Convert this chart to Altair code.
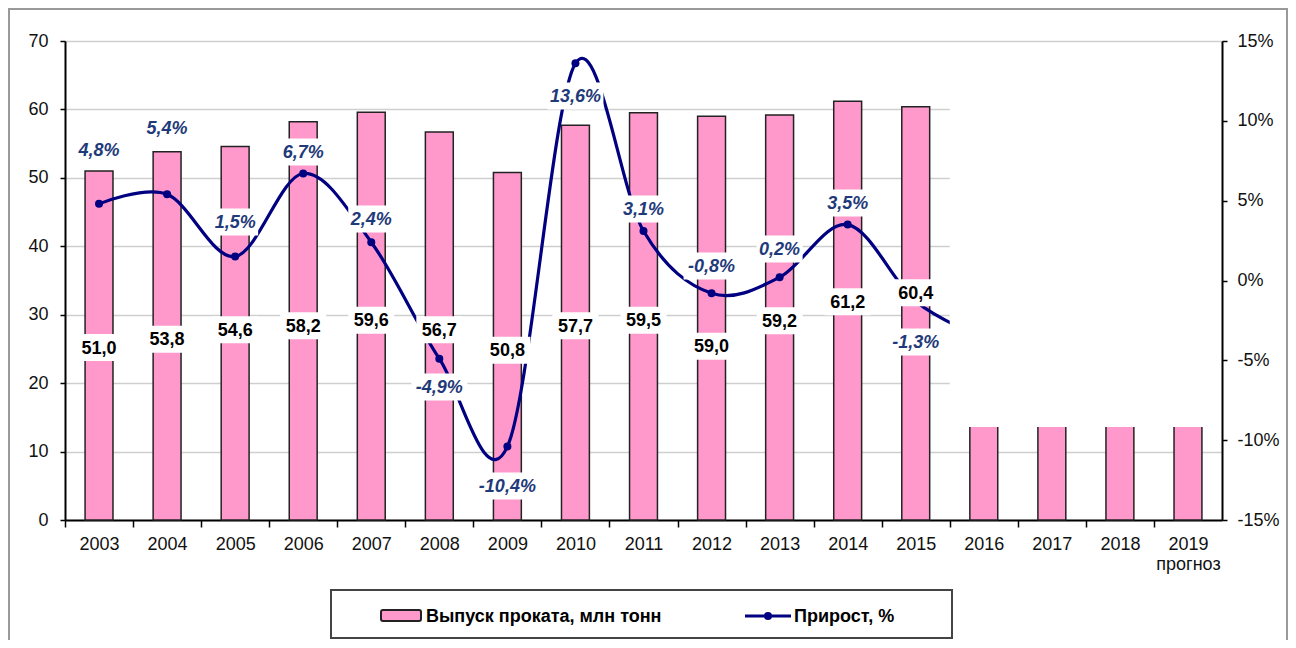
import altair as alt
import pandas as pd

# ---------------- data ----------------
years = ["2003", "2004", "2005", "2006", "2007", "2008", "2009", "2010", "2011",
         "2012", "2013", "2014", "2015", "2016", "2017", "2018", "2019"]

# rolled steel output, mln t (the 2016-2019 bars are cut off by a white box)
output = [51.0, 53.8, 54.6, 58.2, 59.6, 56.7, 50.8, 57.7, 59.5, 59.0, 59.2, 61.2, 60.4,
          13.7, 13.7, 13.7, 13.7]
labelled_years = years[:13]

# growth, %  (2016 only visible as the start of the curve)
growth_years = years[:14]
growth = [4.8, 5.4, 1.5, 6.7, 2.4, -4.9, -10.4, 13.6, 3.1, -0.8, 0.2, 3.5, -1.3, -3.6]

# where the data labels sit (in axis units, as placed in the original)
bar_label_at = [25.2, 26.4, 27.8, 28.4, 29.2, 27.8, 24.8, 28.4, 29.2, 25.4, 29.1, 31.9, 33.2]
growth_label_at = [8.2, 9.55, 3.66, 8.05, 3.85, -6.67, -12.87, 11.55, 4.48, 0.91, 1.97, 4.85, -3.85]

covered_years = ["2016", "2017", "2018", "2019"]
cover_from, cover_to = 13.6, 69.7

# ---------------- style ----------------
FONT = "Liberation Sans"
PINK = "#FF99CC"
NAVY = "#000080"
LBLUE = "#1F3A7A"
W, H = 1157, 479
LEFT_DOM = [0, 70]
RIGHT_DOM = [-15, 15]
px_left = H / (LEFT_DOM[1] - LEFT_DOM[0])
px_right = H / (RIGHT_DOM[1] - RIGHT_DOM[0])
STEP = W / len(years)
BOX_H = 27  # label background height, px
FS = 18


def fmt(v, suffix=""):
    return f"{v:.1f}".replace(".", ",") + suffix


bars_df = pd.DataFrame({"year": years, "output": output})

bar_lab = pd.DataFrame({
    "year": labelled_years,
    "label": [fmt(v) for v in output[:13]],
    "at": bar_label_at,
})
bar_lab["lo"] = bar_lab["at"] - BOX_H / 2 / px_left
bar_lab["hi"] = bar_lab["at"] + BOX_H / 2 / px_left
bar_lab["w"] = bar_lab["label"].str.len() * 10 + 6

line_df = pd.DataFrame({"year": growth_years, "growth": growth})

pct_lab = pd.DataFrame({
    "year": labelled_years,
    "label": [fmt(v, "%") for v in growth[:13]],
    "at": growth_label_at,
})
pct_lab["lo"] = pct_lab["at"] - BOX_H / 2 / px_right
pct_lab["hi"] = pct_lab["at"] + BOX_H / 2 / px_right
pct_lab["w"] = pct_lab["label"].str.len() * 10 + 6

cover_df = pd.DataFrame({"year": covered_years, "c0": cover_from, "c1": cover_to})
one = pd.DataFrame({"a": [0]})

xscale = alt.Scale(domain=years, paddingInner=0.59, paddingOuter=0.295)
x_axis = alt.Axis(
    title=None, tickOffset=-STEP / 2, labelOffset=STEP / 2, domainColor="#000", domainWidth=2,
    tickColor="#000", tickWidth=1.5, tickSize=7, labelFont=FONT, labelFontSize=FS,
    labelColor="#111", labelPadding=8, labelAngle=0, labelLineHeight=20,
    labelExpr="datum.value == '2019' ? ['2019', 'прогноз'] : datum.value",
)
X = alt.X("year:N", scale=xscale, sort=years, axis=x_axis)

lscale = alt.Scale(domain=LEFT_DOM, nice=False, zero=False)
rscale = alt.Scale(domain=RIGHT_DOM, nice=False, zero=False)

left_axis = alt.Axis(
    title=None, orient="left", values=list(range(0, 71, 10)), grid=True,
    gridColor="#cfcfcf", gridWidth=1.5, domainColor="#000", domainWidth=2,
    tickColor="#000", tickWidth=1.5, tickSize=5, labelFont=FONT, labelFontSize=FS,
    labelColor="#111", labelPadding=12,
)
right_axis = alt.Axis(
    title=None, orient="right", values=list(range(-15, 16, 5)), grid=False,
    domainColor="#000", domainWidth=2, tickColor="#000", tickWidth=1.5, tickSize=5,
    labelFont=FONT, labelFontSize=FS, labelColor="#111", labelPadding=10,
    labelExpr="datum.value + '%'", zindex=1,
)

bars = alt.Chart(bars_df).mark_bar(fill=PINK, stroke="#222", strokeWidth=1.5).encode(
    x=X, y=alt.Y("output:Q", scale=lscale, axis=left_axis)
)

line = alt.Chart(line_df).mark_line(
    color=NAVY, strokeWidth=3.2, interpolate="cardinal", tension=0
).encode(x=X, y=alt.Y("growth:Q", scale=rscale, axis=right_axis))

points = alt.Chart(line_df).mark_point(
    filled=True, size=64, color=NAVY, opacity=1
).encode(x=X, y=alt.Y("growth:Q", scale=rscale, axis=None))

cover = alt.Chart(cover_df).mark_bar(
    fill="white", width=alt.RelativeBandSize(2.44)
).encode(x=X, y=alt.Y("c0:Q", scale=lscale, axis=None), y2="c1:Q")

bar_box = alt.Chart(bar_lab).mark_bar(fill="white").encode(
    x=X, y=alt.Y("lo:Q", scale=lscale, axis=None), y2="hi:Q",
    size=alt.Size("w:Q", scale=None, legend=None),
)
bar_text = alt.Chart(bar_lab).mark_text(
    font=FONT, fontSize=FS, fontWeight="bold", color="#000",
    align="center", baseline="middle", dy=1,
).encode(x=X, y=alt.Y("at:Q", scale=lscale, axis=None), text="label:N")

pct_box = alt.Chart(pct_lab).mark_bar(fill="white").encode(
    x=X, y=alt.Y("lo:Q", scale=rscale, axis=None), y2="hi:Q",
    size=alt.Size("w:Q", scale=None, legend=None),
)
pct_text = alt.Chart(pct_lab).mark_text(
    font=FONT, fontSize=FS, fontWeight="bold", fontStyle="italic", color=LBLUE,
    align="center", baseline="middle", dy=1,
).encode(x=X, y=alt.Y("at:Q", scale=rscale, axis=None), text="label:N")

# ---------------- frame and legend (decoration, pixel positions) ----------------
frame = alt.Chart(one).mark_rect(fill="transparent", stroke="#9a9a9a", strokeWidth=2).encode(
    x=alt.value(-56), x2=alt.value(1222), y=alt.value(-32), y2=alt.value(640)
)
leg_box = alt.Chart(one).mark_rect(fill="white", stroke="#444", strokeWidth=2).encode(
    x=alt.value(266), x2=alt.value(887), y=alt.value(549), y2=alt.value(597)
)
leg_sw = alt.Chart(one).mark_rect(
    fill=PINK, stroke="#222", strokeWidth=2, cornerRadius=2
).encode(x=alt.value(316), x2=alt.value(356), y=alt.value(569), y2=alt.value(580))
leg_t1 = alt.Chart(one).mark_text(
    font=FONT, fontSize=18, fontWeight="bold", color="#000", align="left", baseline="middle"
).encode(x=alt.value(361), y=alt.value(576), text=alt.value("Выпуск  проката,  млн  тонн"))
leg_ln = alt.Chart(one).mark_rule(color=NAVY, strokeWidth=3).encode(
    x=alt.value(680), x2=alt.value(726), y=alt.value(575)
)
leg_pt = alt.Chart(one).mark_point(filled=True, size=64, color=NAVY, opacity=1).encode(
    x=alt.value(703), y=alt.value(575)
)
leg_t2 = alt.Chart(one).mark_text(
    font=FONT, fontSize=18, fontWeight="bold", color="#000", align="left", baseline="middle"
).encode(x=alt.value(729), y=alt.value(576), text=alt.value("Прирост,  %"))

chart = alt.layer(
    bars, line, points, cover, bar_box, bar_text, pct_box, pct_text,
    frame, leg_box, leg_sw, leg_t1, leg_ln, leg_pt, leg_t2,
).resolve_scale(y="independent").properties(
    width=W, height=H,
    padding={"left": 57, "top": 33, "right": 66, "bottom": 120},
    autosize=alt.AutoSizeParams(type="none"),
    background="white",
).configure_view(stroke="#8c8c8c", strokeWidth=1)

chart.save("out.html", embed_options={"renderer": "svg", "actions": False})
